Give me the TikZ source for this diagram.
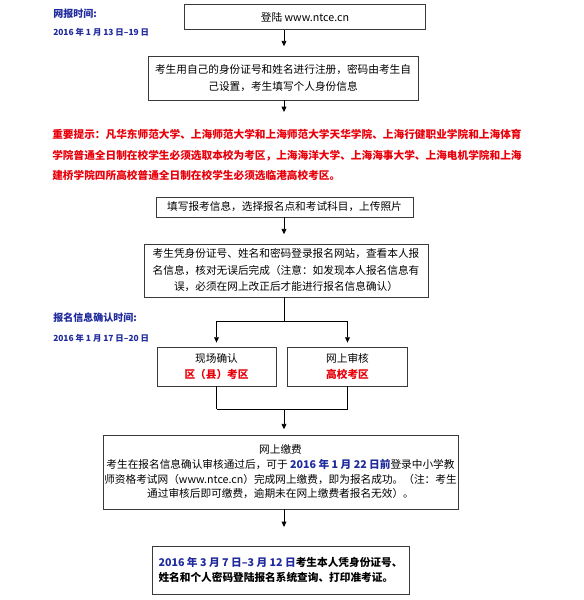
\documentclass[tikz,border=0pt]{standalone}
\usepackage{fontspec}
\setmainfont{Noto Sans CJK SC}
\usetikzlibrary{arrows.meta,positioning,calc}
\definecolor{regblue}{HTML}{1F2A9C}
\definecolor{regred}{HTML}{E8000B}
\definecolor{regframe}{HTML}{3A3A3A}

\begin{document}
\begin{tikzpicture}[
  x=0.75pt, y=-0.75pt,
  >={Triangle[length=4pt,width=3.6pt]},
  stepbox/.style={draw=regframe, line width=0.6pt, fill=white, inner sep=0pt,
    align=center, font=\fontsize{8}{12.5}\selectfont},
  flow/.style={line width=0.6pt, ->},
  link/.style={line width=0.6pt},
  when/.style={anchor=west, inner sep=0pt, text=regblue,
    font=\fontsize{7.5}{9}\selectfont\bfseries},
  date/.style={anchor=west, inner sep=0pt, text=regblue,
    font=\fontsize{6.3}{8}\selectfont\bfseries},
  hot/.style={text=regred, font=\bfseries}
]
\useasboundingbox (0,0) rectangle (583,600);

% vertical axis of the flow
\coordinate (ax) at (284,0);

% time labels
\node[when] (t1) at (53,14) {网报时间:};
\node[date] (d1) at (53,32) {2016 年 1 月 13 日–19 日};
\node[when] (t2) at (53,318) {报名信息确认时间:};
\node[date] (d2) at (53,338) {2016 年 1 月 17 日–20 日};

% steps
\node[stepbox, minimum width=180.75pt, minimum height=18.75pt] (login) at (305,17)
  {登陆 www.ntce.cn};
\node[stepbox, minimum width=202.5pt, minimum height=33pt] (signup) at (283,78)
  {考生用自己的身份证号和姓名进行注册，密码由考生自\\己设置，考生填写个人身份信息};
\coordinate (hint) at (284,112);

\node[anchor=west, inner sep=0pt, align=left, text=regred,
  font=\fontsize{8}{15.4}\selectfont\bfseries] (note) at (52,155)
  {重要提示：凡华东师范大学、上海师范大学和上海师范大学天华学院、上海行健职业学院和上海体育\\
   学院普通全日制在校学生必须选取本校为考区，上海海洋大学、上海海事大学、上海电机学院和上海\\
   建桥学院四所高校普通全日制在校学生必须选临港高校考区。};

\node[stepbox, minimum width=192.75pt, minimum height=15pt] (fill) at (284.5,207)
  {填写报考信息，选择报名点和考试科目，上传照片};
\node[stepbox, minimum width=213pt, minimum height=39.75pt,
  font=\fontsize{8}{12.4}\selectfont] (check) at (286,270.5)
  {考生凭身份证号、姓名和密码登录报名网站，查看本人报\\
   名信息，核对无误后完成（注意：如发现本人报名信息有\\
   误，必须在网上改正后才能进行报名信息确认）};

\node[stepbox, minimum width=89.25pt, minimum height=29.25pt] (site) at (216.5,366.5)
  {现场确认\\{\color{regred}\bfseries 区（县）考区}};
\node[stepbox, minimum width=90pt, minimum height=29.25pt] (online) at (347.5,366.5)
  {网上审核\\{\color{regred}\bfseries 高校考区}};

\node[stepbox, minimum width=266.25pt, minimum height=55.5pt,
  font=\fontsize{8}{11}\selectfont] (pay) at (280.5,472)
  {网上缴费\\
   考生在报名信息确认审核通过后，可于 {\color{regblue}\bfseries 2016 年 1 月 22 日前}登录中小学教\\
   师资格考试网（www.ntce.cn）完成网上缴费，即为报名成功。（注：考生\\
   通过审核后即可缴费，逾期未在网上缴费者报名无效）。};

\node[stepbox, minimum width=192.75pt, minimum height=36pt, align=left,
  font=\fontsize{8}{11.3}\selectfont\bfseries] (ticket) at (280.5,570)
  {{\color{regblue}2016 年 3 月 7 日–3 月 12 日}考生本人凭身份证号、\\
   姓名和个人密码登陆报名系统查询、打印准考证。};

% connectors
\draw[flow, shorten >=7pt] (login.south -| ax) -- (signup.north -| ax);
\draw[flow] (signup.south -| ax) -- (hint);
\draw[flow, shorten >=7pt] (fill.south -| ax) -- (check.north -| ax);

\coordinate (split) at ($(check.south -| ax)+(0,24)$);
\draw[link] (check.south -| ax) -- (split);
\draw[link] (split -| site) -- (split -| online);
\draw[flow, shorten >=3pt] (split -| site) -- (site.north);
\draw[flow, shorten >=3pt] (split -| online) -- (online.north);

\coordinate (merge) at ($(site.south)+(0,23)$);
\draw[link] (site.south) -- (merge);
\draw[link] (online.south) -- (merge -| online);
\draw[link] (merge) -- (merge -| online);
\draw[flow, shorten >=4pt] (merge -| ax) -- (pay.north -| ax);
\draw[flow, shorten >=14pt] (pay.south -| ax) -- (ticket.north -| ax);

\end{tikzpicture}
\end{document}
